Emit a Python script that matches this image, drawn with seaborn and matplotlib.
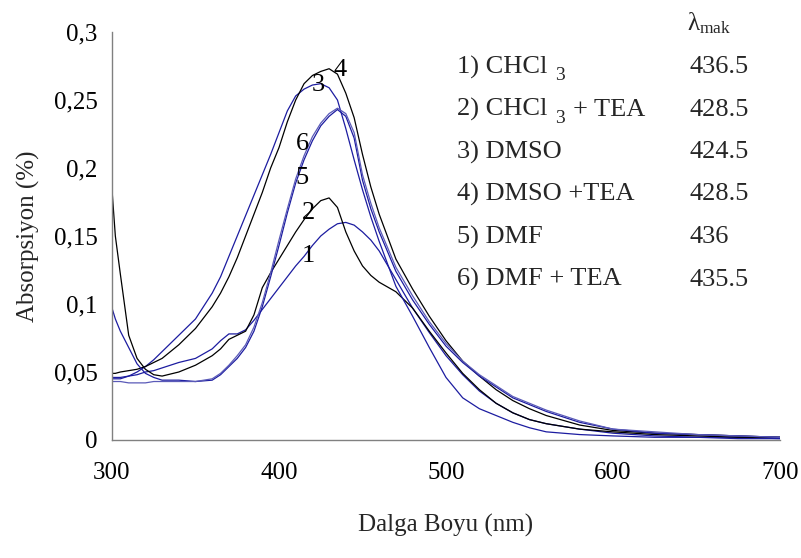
import matplotlib
matplotlib.use("Agg")
import matplotlib.pyplot as plt
import seaborn as sns
import pandas as pd

# ---------------- data ----------------
wavelength = [300, 302, 305, 310, 315, 320, 325, 330, 340, 350, 360, 365, 370, 375,
              380, 385, 390, 395, 400, 405, 410, 415, 420, 425, 430, 435, 440, 445,
              450, 455, 460, 470, 480, 490, 500, 510, 520, 530, 540, 550, 560, 580,
              600, 625, 650, 675, 700]

chcl3 = [.046, .046, .046, .047, .048, .050, .051, .053, .057, .060, .067, .073, .078, .078,
         .081, .088, .096, .104, .112, .120, .128, .135, .143, .150, .155, .159, .160, .158,
         .153, .147, .139, .118, .097, .079, .062, .048, .036, .027, .020, .015, .012, .008,
         .005, .003, .002, .002, .001]

chcl3_tea = [.184, .150, .122, .077, .060, .052, .048, .047, .050, .055, .062, .067, .074, .077,
             .080, .092, .112, .123, .133, .143, .153, .162, .170, .176, .178, .171, .153, .139,
             .128, .121, .116, .109, .097, .080, .064, .049, .037, .027, .020, .015, .012, .008,
             .006, .004, .003, .002, .002]

dmso = [.045, .045, .045, .047, .050, .054, .059, .065, .077, .089, .108, .120, .135, .150,
        .165, .180, .195, .210, .226, .242, .253, .258, .261, .262, .259, .250, .229, .206,
        .184, .164, .146, .113, .091, .068, .046, .031, .023, .018, .013, .009, .006, .004,
        .003, .002, .002, .001, .001]

dmso_tea = [.049, .049, .050, .051, .052, .054, .057, .060, .070, .082, .098, .108, .120, .134,
            .150, .166, .182, .200, .215, .234, .250, .262, .268, .271, .273, .269, .255, .237,
            .210, .186, .166, .133, .111, .091, .073, .058, .047, .037, .029, .023, .018, .011,
            .007, .005, .004, .003, .002]

dmf = [.097, .089, .080, .068, .056, .049, .046, .044, .044, .043, .044, .048, .054, .060,
       .068, .080, .098, .120, .143, .167, .189, .206, .220, .231, .238, .243, .238, .222,
       .191, .170, .153, .124, .103, .085, .069, .057, .047, .039, .031, .026, .021, .013,
       .008, .005, .004, .003, .002]

dmf_tea = [.043, .043, .043, .042, .042, .042, .043, .043, .043, .043, .045, .049, .055, .062,
           .070, .083, .101, .123, .147, .170, .192, .209, .223, .233, .240, .244, .240, .226,
           .195, .174, .156, .127, .106, .087, .071, .058, .048, .040, .032, .027, .022, .014,
           .008, .006, .004, .003, .002]

curve_ids = ["1", "2", "3", "4", "5", "6"]
legend_base = ["1) CHCl", "2) CHCl", "3) DMSO", "4) DMSO +TEA", "5) DMF", "6) DMF + TEA"]
legend_sub = ["3", "3", "", "", "", ""]
legend_tail = ["", "+ TEA", "", "", "", ""]
lambda_max = ["436.5", "428.5", "424.5", "428.5", "436", "435.5"]

# positions of the curve number labels (data coords)
label_x = [417.4, 417.4, 423.4, 436.5, 413.8, 413.8]
label_y = [0.135, 0.167, 0.261, 0.272, 0.193, 0.218]

yticks = [0, 0.05, 0.1, 0.15, 0.2, 0.25, 0.3]
yticklabels = ["0", "0,05", "0,1", "0,15", "0,2", "0,25", "0,3"]
xticks = [300, 400, 500, 600, 700]

# ---------------- build frame ----------------
series = [chcl3, chcl3_tea, dmso, dmso_tea, dmf, dmf_tea]
rows = []
for cid, vals in zip(curve_ids, series):
    for w, v in zip(wavelength, vals):
        rows.append({"wl": w, "abs": v, "curve": cid})
df = pd.DataFrame(rows)

palette = {"1": "#1c1ca0", "2": "#000000", "3": "#1c1ca0",
           "4": "#000000", "5": "#1c1ca0", "6": "#5a5ab8"}

# ---------------- plot ----------------
sns.set_style("white")
plt.rcParams["font.family"] = ["Liberation Serif", "DejaVu Serif"]
plt.rcParams["mathtext.fontset"] = "custom"
plt.rcParams["mathtext.rm"] = "Liberation Serif"
plt.rcParams["mathtext.default"] = "regular"

W, H = 801, 558
fig = plt.figure(figsize=(W / 100, H / 100), dpi=100)
L, R, T, B = 112, 780, 32, 440
ax = fig.add_axes([L / W, 1 - B / H, (R - L) / W, (B - T) / H])

sns.lineplot(data=df, x="wl", y="abs", hue="curve", palette=palette,
             estimator=None, legend=False, linewidth=0.9, ax=ax)

ax.set_xlim(300, 700)
ax.set_ylim(0, 0.3)
ax.set_xticks(xticks)
ax.set_xticklabels([str(v) for v in xticks])
ax.set_yticks(yticks)
ax.set_yticklabels(yticklabels)
ax.set_xlabel("")
ax.set_ylabel("")

FS = 18
ax.tick_params(axis="both", direction="out", length=7.5, width=0.8,
               color="#555555", labelsize=FS, labelcolor="black")
ax.tick_params(axis="x", pad=8)
ax.tick_params(axis="y", pad=3)
for s in ["top", "right"]:
    ax.spines[s].set_visible(False)
for s in ["left", "bottom"]:
    ax.spines[s].set_color("#808080")
    ax.spines[s].set_linewidth(1.0)

# curve number labels
for t, x, y in zip(curve_ids, label_x, label_y):
    ax.text(x, y, t, fontsize=FS + 1, ha="center", va="center", color="black")

# axis titles
fig.text(446 / W, 1 - 525 / H, "Dalga Boyu (nm)", fontsize=FS,
         ha="center", va="center")
fig.text(28 / W, 1 - 236 / H, "Absorpsiyon (%)", fontsize=FS,
         ha="center", va="center", rotation=90)

# legend-like text block
fig.text(687 / W, 1 - 23 / H, "λ$_{mak}$", fontsize=FS, ha="left", va="center")
renderer = fig.canvas.get_renderer()
row_y = [67, 109.5, 152, 194.5, 237, 279.5]
for base, sub, tail, lm, ry in zip(legend_base, legend_sub, legend_tail, lambda_max, row_y):
    t1 = fig.text(457 / W, 1 - ry / H, base, fontsize=FS + 1, ha="left", va="center")
    if sub:
        bb = t1.get_window_extent(renderer)
        t2 = fig.text((bb.x1 + 8) / W, 1 - (ry + 9) / H, sub, fontsize=14,
                      ha="left", va="center")
        if tail:
            bb2 = t2.get_window_extent(renderer)
            fig.text((bb2.x1 + 8) / W, 1 - ry / H, tail, fontsize=FS + 1,
                     ha="left", va="center")
    fig.text(690 / W, 1 - ry / H, lm, fontsize=FS + 1, ha="left", va="center")

fig.savefig("out.png", dpi=100)
